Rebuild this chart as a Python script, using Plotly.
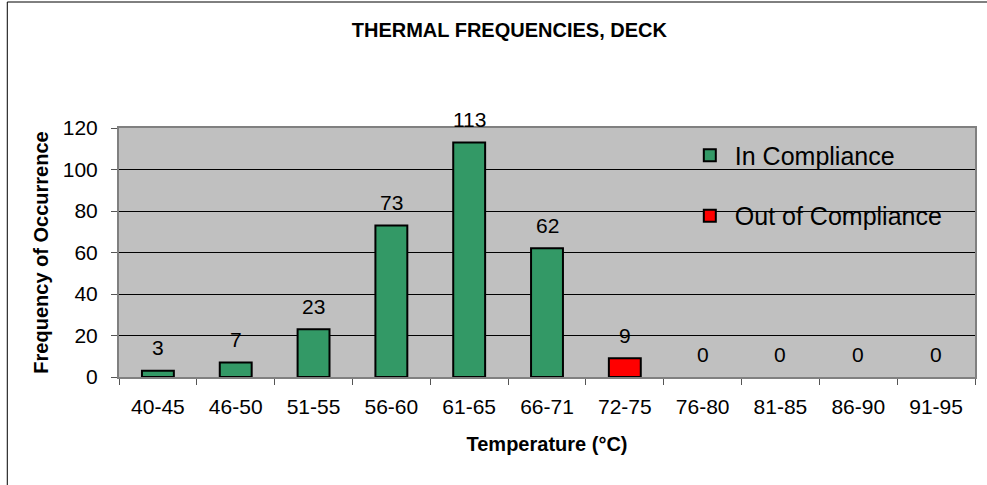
import plotly.graph_objects as go

categorias = ["40-45", "46-50", "51-55", "56-60", "61-65", "66-71",
              "72-75", "76-80", "81-85", "86-90", "91-95"]
en_cumplimiento = [3, 7, 23, 73, 113, 62, None, None, None, None, None]
fuera_cumplimiento = [None, None, None, None, None, None, 9, None, None, None, None]
etiquetas = [3, 7, 23, 73, 113, 62, 9, 0, 0, 0, 0]

fuente = "Liberation Sans, Arial, sans-serif"

fig = go.Figure()

fig.add_trace(go.Bar(
    x=categorias, y=en_cumplimiento, name="In Compliance",
    marker=dict(color="#339966", line=dict(color="black", width=2)),
    width=0.41, legendgroup="a"
))
fig.add_trace(go.Bar(
    x=categorias, y=fuera_cumplimiento, name="Out of Compliance",
    marker=dict(color="#FF0000", line=dict(color="black", width=2)),
    width=0.41, legendgroup="b"
))

# etiquetas de datos por encima de cada barra
for cat, val in zip(categorias, etiquetas):
    fig.add_annotation(x=cat, y=val, text=str(val), showarrow=False,
                       yshift=23, font=dict(size=21, color="black", family=fuente))

# marco exterior del grafico
fig.add_shape(type="rect", xref="paper", yref="paper",
              x0=-0.1305, x1=1.2, y0=-0.6, y1=1.506,
              line=dict(color="black", width=1), layer="below")

fig.update_layout(
    width=987, height=485,
    margin=dict(l=119, r=10, t=128, b=108),
    paper_bgcolor="white", plot_bgcolor="#C0C0C0",
    barmode="overlay",
    font=dict(family=fuente, size=21, color="black"),
    title=dict(text="<b>THERMAL FREQUENCIES, DECK</b>", x=0.456, xref="paper",
               xanchor="center", y=0.938, yanchor="middle",
               font=dict(size=20, family=fuente)),
    xaxis=dict(
        title=dict(text="<b>Temperature (°C)</b>", font=dict(size=20), standoff=20),
        tickson="boundaries", ticks="outside", ticklen=6, tickcolor="#555555",
        showline=True, linecolor="#808080", linewidth=2, mirror=True,
        ticklabelstandoff=10, showgrid=False
    ),
    yaxis=dict(
        title=dict(text="<b>Frequency of Occurrence</b>", font=dict(size=20), standoff=9),
        range=[0, 120], dtick=20, ticks="outside", ticklen=6, tickcolor="#555555",
        showline=True, linecolor="#808080", linewidth=2, mirror=True,
        ticklabelstandoff=9,
        showgrid=True, gridcolor="black", gridwidth=1, zeroline=False
    ),
    legend=dict(x=0.661, y=0.982, xanchor="left", yanchor="top",
                bgcolor="rgba(0,0,0,0)", font=dict(size=25, family=fuente),
                traceorder="grouped", tracegroupgap=25, itemwidth=40),
    showlegend=True
)

fig.write_html("out.html", config={"displayModeBar": False},
               post_script="document.body.style.margin='0';")
